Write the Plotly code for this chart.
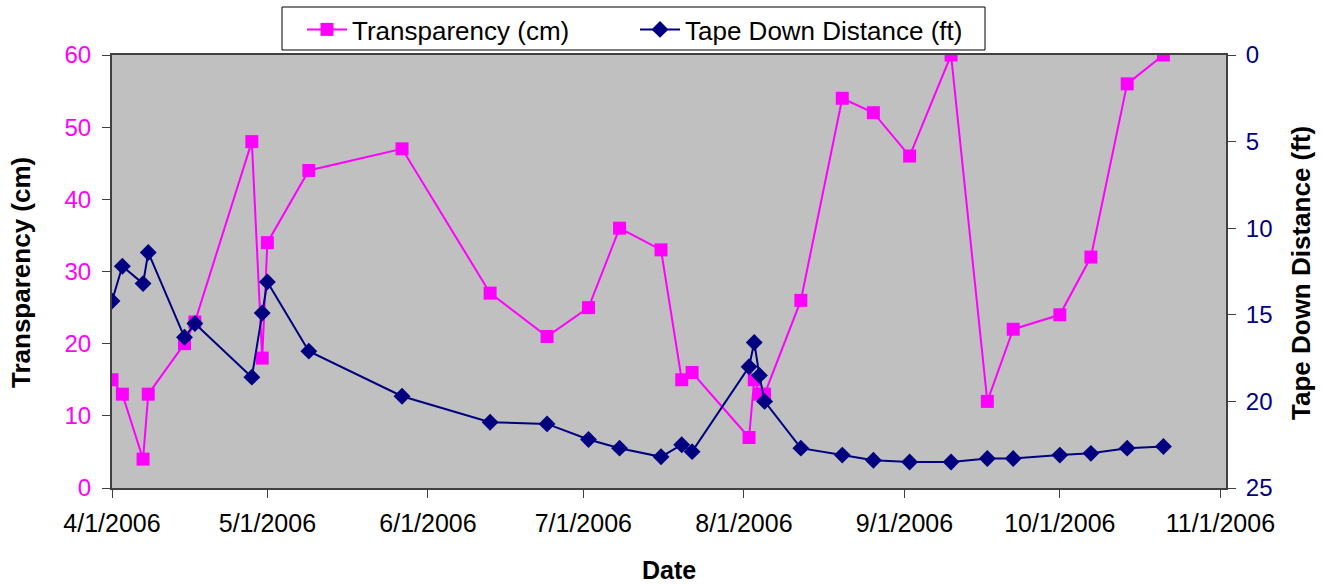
import plotly.graph_objects as go

dates = ['2006-04-01','2006-04-03','2006-04-07','2006-04-08','2006-04-15','2006-04-17',
         '2006-04-28','2006-04-30','2006-05-01','2006-05-09','2006-05-27','2006-06-13',
         '2006-06-24','2006-07-02','2006-07-08','2006-07-16','2006-07-20','2006-07-22',
         '2006-08-02','2006-08-03','2006-08-04','2006-08-05','2006-08-12','2006-08-20',
         '2006-08-26','2006-09-02','2006-09-10','2006-09-17','2006-09-22','2006-10-01',
         '2006-10-07','2006-10-14','2006-10-21']
transparency_cm = [15, 13, 4, 13, 20, 23, 48, 18, 34, 44, 47, 27, 21, 25, 36, 33, 15, 16,
                   7, 15, 13, 13, 26, 54, 52, 46, 60, 12, 22, 24, 32, 56, 60]
tape_down_ft = [14.2, 12.2, 13.2, 11.4, 16.3, 15.5, 18.6, 14.9, 13.1, 17.1, 19.7, 21.2,
                21.3, 22.2, 22.7, 23.2, 22.5, 22.9, 18.0, 16.6, 18.5, 20.0, 22.7, 23.1,
                23.4, 23.5, 23.5, 23.3, 23.3, 23.1, 23.0, 22.7, 22.6]
x_tick_vals = ['2006-04-01','2006-05-01','2006-06-01','2006-07-01','2006-08-01',
               '2006-09-01','2006-10-01','2006-11-01']
x_tick_text = ['4/1/2006','5/1/2006','6/1/2006','7/1/2006','8/1/2006',
               '9/1/2006','10/1/2006','11/1/2006']

MAGENTA = '#FF00FF'
NAVY = '#000080'
FONT = 'Liberation Sans, Arial, sans-serif'
AXC = '#404040'
xrange = ['2006-04-01', '2006-11-02 02:00']

PW, PH, PL, PB = 1114, 433, 112, 488  # plot area geometry in px
def px(x):
    return (x - PL) / PW
def py(y):
    return (PB - y) / PH

fig = go.Figure()
fig.add_trace(go.Scatter(x=dates, y=transparency_cm, name='Transparency (cm)',
                         mode='lines+markers', line=dict(color=MAGENTA, width=2),
                         marker=dict(symbol='square', size=13, color=MAGENTA),
                         yaxis='y', xaxis='x'))
fig.add_trace(go.Scatter(x=dates, y=tape_down_ft, name='Tape Down Distance (ft)',
                         mode='lines+markers', line=dict(color=NAVY, width=2),
                         marker=dict(symbol='diamond', size=13, color=NAVY),
                         yaxis='y2', xaxis='x'))

fig.update_layout(
    width=1323, height=585,
    margin=dict(l=112, r=97, t=55, b=97, autoexpand=False),
    paper_bgcolor='white', plot_bgcolor='#C0C0C0',
    font=dict(family=FONT, color='black'),
    showlegend=True,
    legend=dict(orientation='h', x=px(302), y=py(6), xanchor='left', yanchor='top',
                bgcolor='rgba(0,0,0,0)', borderwidth=0,
                font=dict(size=26, family=FONT), entrywidth=278, itemwidth=40,
                tracegroupgap=0),
    xaxis=dict(type='date', range=xrange, tickvals=x_tick_vals, ticktext=x_tick_text,
               ticks='outside', ticklen=8, tickcolor=AXC, tickwidth=1,
               showline=True, linecolor=AXC, linewidth=2, mirror=True,
               showgrid=False, zeroline=False, ticklabelstandoff=4,
               tickfont=dict(size=25, color='black', family=FONT)),
    yaxis=dict(range=[0, 60], tickvals=[0, 10, 20, 30, 40, 50, 60],
               ticks='outside', ticklen=8, tickcolor=AXC, tickwidth=1,
               showline=True, linecolor=AXC, linewidth=2,
               showgrid=False, zeroline=False, ticklabelstandoff=6,
               tickfont=dict(size=24, color=MAGENTA, family=FONT)),
    yaxis2=dict(range=[25, 0], tickvals=[0, 5, 10, 15, 20, 25], overlaying='y', side='right',
                anchor='x', ticks='outside', ticklen=8, tickcolor=AXC, tickwidth=1,
                showline=True, linecolor=AXC, linewidth=2, ticklabelstandoff=5,
                showgrid=False, zeroline=False,
                tickfont=dict(size=24, color=NAVY, family=FONT)),
    # companion axes providing the inner half of the crossing tick marks
    xaxis2=dict(type='date', range=xrange, tickvals=x_tick_vals, overlaying='x',
                anchor='y', side='bottom', ticks='inside', ticklen=8, tickcolor=AXC,
                showticklabels=False, showline=False, showgrid=False, zeroline=False),
    yaxis3=dict(range=[0, 60], tickvals=[0, 10, 20, 30, 40, 50, 60], overlaying='y',
                anchor='x', side='left', ticks='inside', ticklen=8, tickcolor=AXC,
                showticklabels=False, showline=False, showgrid=False, zeroline=False),
    yaxis4=dict(range=[25, 0], tickvals=[0, 5, 10, 15, 20, 25], overlaying='y',
                anchor='x', side='right', ticks='inside', ticklen=8, tickcolor=AXC,
                showticklabels=False, showline=False, showgrid=False, zeroline=False),
)

# legend frame
fig.add_shape(type='rect', xref='paper', yref='paper',
              x0=px(282), x1=px(985), y0=py(50), y1=py(7),
              line=dict(color='black', width=1), fillcolor='white', layer='below')

fig.add_annotation(text='<b>Transparency (cm)</b>', xref='paper', yref='paper',
                   x=px(21), y=py(273), textangle=-90, showarrow=False,
                   xanchor='center', yanchor='middle',
                   font=dict(size=26, family=FONT, color='black'))
fig.add_annotation(text='<b>Tape Down Distance (ft)</b>', xref='paper', yref='paper',
                   x=px(1301), y=py(273), textangle=-90, showarrow=False,
                   xanchor='center', yanchor='middle',
                   font=dict(size=26, family=FONT, color='black'))
fig.add_annotation(text='<b>Date</b>', xref='paper', yref='paper',
                   x=px(669), y=py(570), showarrow=False,
                   xanchor='center', yanchor='middle',
                   font=dict(size=25, family=FONT, color='black'))

fig.write_html('out.html')
